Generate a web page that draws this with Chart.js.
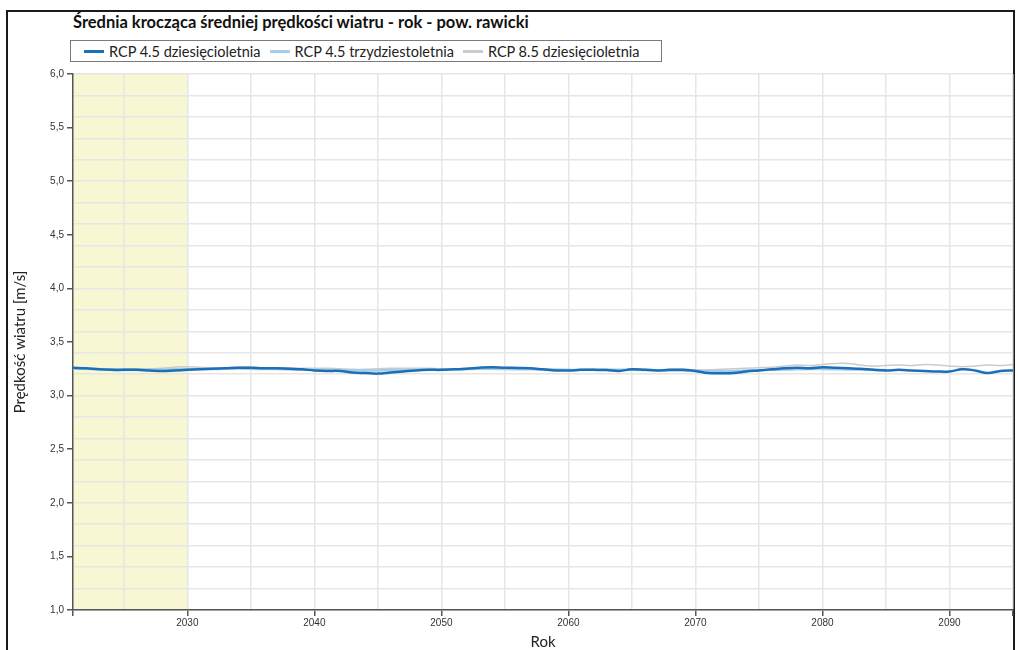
<!DOCTYPE html>
<html lang="pl">
<head>
<meta charset="utf-8">
<title>Średnia krocząca średniej prędkości wiatru - rok - pow. rawicki</title>
<script src="https://cdn.jsdelivr.net/npm/chart.js@4"></script>
<style>
  html, body { margin: 0; padding: 0; background: #fff; }
  body { width: 1018px; height: 650px; position: relative; overflow: hidden; font-family: Lato, "Open Sans", sans-serif; }
  #frame { position: absolute; left: 6px; top: 10px; width: 1009px; height: 700px; border: 2px solid #1a1a1a; box-sizing: border-box; }
  #title { position: absolute; left: 73px; top: 12px; font-weight: bold; font-size: 16.5px; color: #111; white-space: nowrap; }
  #legend { position: absolute; left: 70px; top: 40px; width: 592px; height: 22px; border: 1px solid #7a7a7a; box-sizing: border-box;
            display: flex; align-items: center; font-size: 14.5px; color: #222; white-space: nowrap; }
  .item { display: flex; align-items: center; margin-left: 9px; }
  .item:first-child { margin-left: 13px; }
  .swatch { width: 20px; height: 3px; margin-right: 5px; }
  #wrap { position: absolute; left: 0; top: 64px; width: 1018px; height: 586px; }
</style>
</head>
<body>
<div id="frame"></div>
<div id="title">Średnia krocząca średniej prędkości wiatru - rok - pow. rawicki</div>
<div id="legend"></div>
<div id="wrap"><canvas id="myChart"></canvas></div>

<script>
// lata (oś X)
const years = [2021, 2022, 2023, 2024, 2025, 2026, 2027, 2028, 2029, 2030,
  2031, 2032, 2033, 2034, 2035, 2036, 2037, 2038, 2039, 2040,
  2041, 2042, 2043, 2044, 2045, 2046, 2047, 2048, 2049, 2050,
  2051, 2052, 2053, 2054, 2055, 2056, 2057, 2058, 2059, 2060,
  2061, 2062, 2063, 2064, 2065, 2066, 2067, 2068, 2069, 2070,
  2071, 2072, 2073, 2074, 2075, 2076, 2077, 2078, 2079, 2080,
  2081, 2082, 2083, 2084, 2085, 2086, 2087, 2088, 2089, 2090,
  2091, 2092, 2093, 2094, 2095];

// RCP 4.5 dziesięcioletnia
const rcp45Dec = [3.26, 3.255, 3.245, 3.24, 3.24, 3.24, 3.235, 3.23, 3.235, 3.24,
  3.245, 3.25, 3.255, 3.26, 3.26, 3.255, 3.255, 3.25, 3.245, 3.235,
  3.23, 3.23, 3.215, 3.21, 3.205, 3.215, 3.225, 3.235, 3.24, 3.24,
  3.245, 3.25, 3.26, 3.265, 3.26, 3.258, 3.255, 3.245, 3.235, 3.235,
  3.24, 3.24, 3.238, 3.23, 3.245, 3.24, 3.235, 3.24, 3.24, 3.23,
  3.21, 3.208, 3.21, 3.225, 3.235, 3.245, 3.255, 3.26, 3.255, 3.265,
  3.26, 3.255, 3.25, 3.24, 3.235, 3.24, 3.235, 3.23, 3.225, 3.225,
  3.245, 3.235, 3.21, 3.23, 3.235];

// RCP 4.5 trzydziestoletnia (kończy się w 2085)
const rcp45Tri = [3.25, 3.25, 3.248, 3.246, 3.245, 3.245, 3.244, 3.244, 3.245, 3.246,
  3.247, 3.248, 3.25, 3.252, 3.25, 3.248, 3.247, 3.245, 3.243, 3.24,
  3.24, 3.238, 3.236, 3.235, 3.235, 3.236, 3.238, 3.24, 3.242, 3.245,
  3.246, 3.248, 3.25, 3.25, 3.248, 3.246, 3.245, 3.243, 3.242, 3.24,
  3.24, 3.24, 3.24, 3.24, 3.24, 3.238, 3.236, 3.235, 3.233, 3.23,
  3.228, 3.228, 3.23, 3.233, 3.236, 3.24, 3.243, 3.245, 3.247, 3.248,
  3.246, 3.244, 3.242, 3.24, 3.238];

// RCP 8.5 dziesięcioletnia
const rcp85Dec = [3.26, 3.255, 3.25, 3.245, 3.245, 3.245, 3.25, 3.255, 3.265, 3.27,
  3.265, 3.26, 3.26, 3.265, 3.265, 3.26, 3.26, 3.26, 3.255, 3.255,
  3.255, 3.25, 3.245, 3.245, 3.25, 3.255, 3.255, 3.255, 3.255, 3.25,
  3.25, 3.255, 3.26, 3.26, 3.255, 3.25, 3.25, 3.245, 3.245, 3.24,
  3.24, 3.245, 3.245, 3.24, 3.245, 3.245, 3.24, 3.245, 3.245, 3.24,
  3.24, 3.245, 3.25, 3.255, 3.26, 3.265, 3.275, 3.285, 3.28, 3.29,
  3.3, 3.3, 3.285, 3.275, 3.28, 3.285, 3.28, 3.29, 3.285, 3.275,
  3.27, 3.275, 3.285, 3.28, 3.29];

// zacieniony okres referencyjny
const bandRange = [2021, 2030];

const seriesNames = ['RCP 4.5 dziesięcioletnia', 'RCP 4.5 trzydziestoletnia', 'RCP 8.5 dziesięcioletnia'];
const seriesColors = ['#1c6fb6', '#a3cdeb', '#cbcbcb'];
const seriesWidths = [2.5, 2.5, 1.5];
const seriesData = [rcp45Dec, rcp45Tri, rcp85Dec];

// legenda w HTML
const legendEl = document.getElementById('legend');
seriesNames.forEach((name, i) => {
  const item = document.createElement('div');
  item.className = 'item';
  item.innerHTML = '<span class="swatch" style="background:' + seriesColors[i] + '"></span><span>' + name + '</span>';
  legendEl.appendChild(item);
});

const bandPlugin = {
  id: 'refBand',
  beforeDraw(chart) {
    const { ctx, chartArea, scales: { x } } = chart;
    const x0 = x.getPixelForValue(bandRange[0]);
    const x1 = x.getPixelForValue(bandRange[1]);
    ctx.save();
    ctx.fillStyle = '#f7f7d3';
    ctx.fillRect(x0, chartArea.top, x1 - x0, chartArea.bottom - chartArea.top);
    ctx.restore();
  }
};

const near = (a, b) => Math.abs(a - b) < 1e-6;
const isYLabel = v => near(Math.round(v * 2) / 2, v);
const isYGrid = v => near(Math.round(v * 5) / 5, v);
const isXLabel = v => v % 10 === 0;
const isXTick = v => v % 10 === 0 || v === 2021 || v === 2095;
const tickFont = { family: '"Liberation Sans", Arial, sans-serif', size: 10 };
const gridColor = '#e6e6e6';

const ctx = document.getElementById('myChart').getContext('2d');
const myChart = new Chart(ctx, {
  type: 'line',
  data: {
    datasets: seriesData.map((vals, i) => ({
      label: seriesNames[i],
      data: vals.map((v, j) => ({ x: years[j], y: v })),
      borderColor: seriesColors[i],
      borderWidth: seriesWidths[i],
      pointRadius: 0,
      tension: 0.4,
      fill: false
    }))
  },
  options: {
    responsive: true,
    maintainAspectRatio: false,
    animation: false,
    layout: { padding: { top: 10, right: 5, left: 0, bottom: 0 } },
    plugins: {
      legend: { display: false },
      tooltip: { enabled: false }
    },
    scales: {
      x: {
        type: 'linear',
        min: 2021,
        max: 2095,
        afterBuildTicks: scale => {
          const t = [2021];
          for (let v = 2025; v <= 2095; v += 5) t.push(v);
          scale.ticks = t.map(v => ({ value: v }));
        },
        afterFit: scale => { scale.height = 40; },
        ticks: {
          autoSkip: false,
          maxRotation: 0,
          padding: 1,
          font: tickFont,
          color: '#333',
          callback: v => isXLabel(v) ? String(v) : ''
        },
        grid: {
          color: c => (c.tick && c.tick.value % 5 === 0) ? gridColor : 'rgba(0,0,0,0)',
          tickColor: c => (c.tick && isXTick(c.tick.value)) ? '#555' : 'rgba(0,0,0,0)',
          tickLength: 6,
          lineWidth: 1.5
        },
        border: { color: '#555', width: 1.5 },
        title: {
          display: true,
          text: 'Rok',
          font: { family: 'Lato, sans-serif', size: 15 },
          color: '#222',
          padding: { top: 0, bottom: -1 }
        }
      },
      y: {
        min: 1,
        max: 6,
        afterBuildTicks: scale => {
          const t = [];
          for (let k = 10; k <= 60; k++) t.push({ value: k / 10 });
          scale.ticks = t;
        },
        afterFit: scale => { scale.width = 73; },
        ticks: {
          autoSkip: false,
          padding: 3,
          font: tickFont,
          color: '#333',
          callback: v => isYLabel(v) ? v.toFixed(1).replace('.', ',') : ''
        },
        grid: {
          color: c => (c.tick && isYGrid(c.tick.value)) ? gridColor : 'rgba(0,0,0,0)',
          tickColor: c => (c.tick && isYLabel(c.tick.value)) ? '#555' : 'rgba(0,0,0,0)',
          tickLength: 6,
          lineWidth: 1.5
        },
        border: { color: '#555', width: 1.5 },
        title: {
          display: true,
          text: 'Prędkość wiatru [m/s]',
          font: { family: 'Lato, sans-serif', size: 15 },
          color: '#222',
          padding: { top: 11, bottom: 0 }
        }
      }
    }
  },
  plugins: [bandPlugin]
});
</script>
</body>
</html>
